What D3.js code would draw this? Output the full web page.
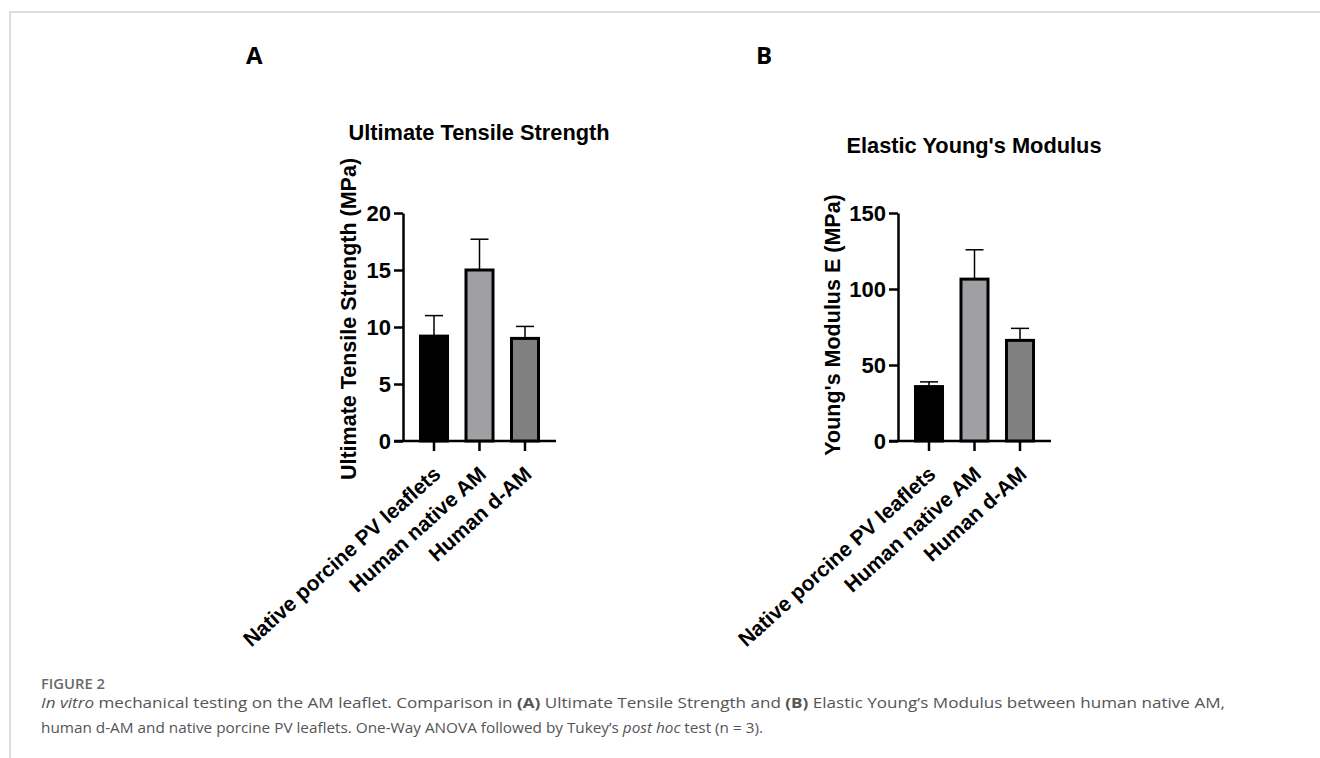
<!DOCTYPE html>
<html><head><meta charset="utf-8">
<script src="https://cdn.jsdelivr.net/npm/d3@7"></script>
<style>html,body{margin:0;padding:0;background:#fff;}svg{display:block;}</style>
</head><body>
<svg id="c" width="1320" height="758"></svg>
<script>
const categories = ["Native porcine PV leaflets", "Human native AM", "Human d-AM"];
const barColors = ["#000000", "#a0a0a4", "#808080"];
const utsMean = [9.2, 15.0, 9.0];
const utsSD = [1.8, 2.7, 1.05];
const utsTicks = [0, 5, 10, 15, 20];
const ymMean = [35.8, 106.5, 66.2];
const ymSD = [3.1, 19.3, 7.9];
const ymTicks = [0, 50, 100, 150];

const svg = d3.select("#c");
// frame
svg.append("path").attr("d", "M10,758 V12 H1320").attr("fill", "none").attr("stroke", "#d2d2d2").attr("stroke-width", 1.5);

const FONT = "Liberation Sans, Arial, sans-serif";

function panel(o) {
  const g = svg.append("g");
  g.append("text").attr("x", o.letterX).attr("y", 64).text(o.letter)
    .attr("font-family", "Open Sans, sans-serif").attr("font-weight", 700).attr("font-size", 24).attr("fill", "#000");
  const y = d3.scaleLinear().domain(o.domain).range([441, 213]);
  const x = d3.scaleBand().domain(categories).range([o.axisX + 8.25, o.axisX + 144.75]).paddingInner(0.34).paddingOuter(0.17);
  // title
  g.append("text").attr("x", o.titleX).attr("y", o.titleY).attr("text-anchor", "middle")
    .attr("font-family", FONT).attr("font-weight", 700).attr("font-size", 21.8).text(o.title);
  // y axis label
  g.append("text").attr("transform", `translate(${o.ylabX},${o.ylabY}) rotate(-90)`).attr("text-anchor", "middle")
    .attr("font-family", FONT).attr("font-weight", 700).attr("font-size", 21.5).text(o.ylabel);
  // y axis
  const ya = g.append("g").attr("transform", `translate(${o.axisX},0)`)
    .call(d3.axisLeft(y).tickValues(o.ticks).tickSize(9).tickPadding(3).tickSizeOuter(0));
  ya.select(".domain").attr("stroke-width", 2.5).attr("stroke", "#000");
  ya.selectAll(".tick line").attr("stroke-width", 2.5).attr("stroke", "#000");
  ya.selectAll(".tick text").attr("font-family", FONT).attr("font-weight", 700).attr("font-size", 22).attr("fill", "#000");
  // x axis
  const xa = g.append("g").attr("transform", `translate(0,441)`)
    .call(d3.axisBottom(x).tickSize(10).tickSizeOuter(0).tickFormat(""));
  xa.select(".domain").remove();
  xa.selectAll(".tick line").attr("stroke-width", 2.5).attr("stroke", "#000");
  g.append("line").attr("x1", o.axisX - 9).attr("x2", o.axisX + 153).attr("y1", 441).attr("y2", 441)
    .attr("stroke", "#000").attr("stroke-width", 2.5);
  // error bars
  categories.forEach((c, i) => {
    const cx = x(c) + x.bandwidth() / 2;
    g.append("line").attr("x1", cx).attr("x2", cx).attr("y1", y(o.mean[i])).attr("y2", y(o.mean[i] + o.sd[i]))
      .attr("stroke", "#000").attr("stroke-width", 1.5);
    g.append("line").attr("x1", cx - 9).attr("x2", cx + 9).attr("y1", y(o.mean[i] + o.sd[i])).attr("y2", y(o.mean[i] + o.sd[i]))
      .attr("stroke", "#000").attr("stroke-width", 1.5);
  });
  // bars
  g.selectAll("rect.bar").data(categories).join("rect").attr("class", "bar")
    .attr("x", d => x(d) + 1.5).attr("width", x.bandwidth() - 3)
    .attr("y", (d, i) => y(o.mean[i])).attr("height", (d, i) => y(0) - y(o.mean[i]))
    .attr("fill", (d, i) => barColors[i]).attr("stroke", "#000").attr("stroke-width", 3);
  // x labels
  categories.forEach((c, i) => {
    const cx = x(c) + x.bandwidth() / 2;
    g.append("text").attr("transform", `translate(${cx + 8},${476}) rotate(-42)`).attr("text-anchor", "end")
      .attr("font-family", FONT).attr("font-weight", 700).attr("font-size", 21).text(c);
  });
}

panel({letter: "A", letterX: 246, domain: [0, 20], ticks: utsTicks, mean: utsMean, sd: utsSD, axisX: 403,
  title: "Ultimate Tensile Strength", titleX: 479, titleY: 140,
  ylabel: "Ultimate Tensile Strength (MPa)", ylabX: 356, ylabY: 319});
panel({letter: "B", letterX: 756, domain: [0, 150], ticks: ymTicks, mean: ymMean, sd: ymSD, axisX: 898,
  title: "Elastic Young's Modulus", titleX: 974, titleY: 153,
  ylabel: "Young's Modulus E (MPa)", ylabX: 840, ylabY: 325});

// caption
const CF = "Open Sans, sans-serif";
svg.append("text").attr("x", 41).attr("y", 689).attr("font-family", CF).attr("font-weight", 600)
  .attr("font-size", 14).attr("fill", "#6a6a6a").attr("textLength", 64).attr("lengthAdjust", "spacingAndGlyphs").text("FIGURE 2");
const l1 = svg.append("text").attr("x", 41).attr("y", 708).attr("font-family", CF).attr("font-size", 14.5).attr("fill", "#555")
  .attr("textLength", 1184).attr("lengthAdjust", "spacingAndGlyphs");
l1.append("tspan").attr("font-style", "italic").text("In vitro");
l1.append("tspan").text(" mechanical testing on the AM leaflet. Comparison in ");
l1.append("tspan").attr("font-weight", 700).text("(A)");
l1.append("tspan").text(" Ultimate Tensile Strength and ");
l1.append("tspan").attr("font-weight", 700).text("(B)");
l1.append("tspan").text(" Elastic Young\u2019s Modulus between human native AM,");
const l2 = svg.append("text").attr("x", 41).attr("y", 733).attr("font-family", CF).attr("font-size", 14.5).attr("fill", "#555")
  .attr("textLength", 722).attr("lengthAdjust", "spacingAndGlyphs");
l2.append("tspan").text("human d-AM and native porcine PV leaflets. One-Way ANOVA followed by Tukey\u2019s ");
l2.append("tspan").attr("font-style", "italic").text("post hoc");
l2.append("tspan").text(" test (n = 3).");
</script>
</body></html>
